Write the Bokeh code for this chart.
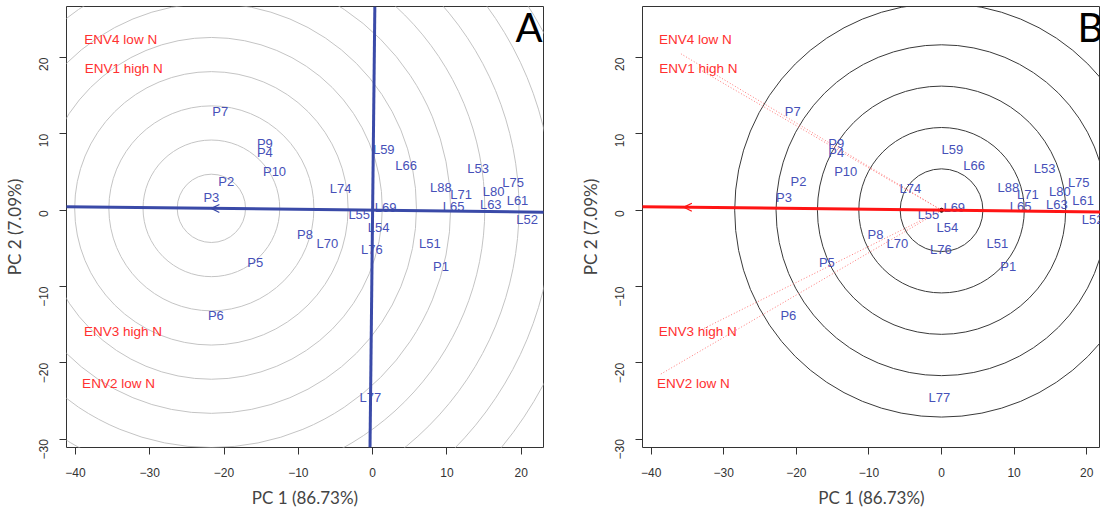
import numpy as np
from bokeh.plotting import figure
from bokeh.layouts import row
from bokeh.models import ColumnDataSource, Label, Arrow, OpenHead, FixedTicker, Range1d, Slope
from bokeh.core.properties import value
from bokeh.embed import file_html
from bokeh.resources import INLINE

# ---------------- data ----------------
genotypes = ["P1", "P2", "P3", "P4", "P5", "P6", "P7", "P8", "P9", "P10",
             "L51", "L52", "L53", "L54", "L55", "L59", "L61", "L63", "L65", "L66",
             "L69", "L70", "L71", "L74", "L75", "L76", "L77", "L80", "L88"]
geno_pc1 = [9.2, -19.7, -21.7, -14.5, -15.8, -21.1, -20.5, -9.1, -14.5, -13.2,
            7.7, 20.8, 14.2, 0.8, -1.8, 1.5, 19.5, 15.9, 10.9, 4.5,
            1.75, -6.1, 11.9, -4.3, 18.9, -0.1, -0.3, 16.3, 9.2]
geno_pc2 = [-7.4, 3.8, 1.7, 7.5, -6.9, -13.8, 13.0, -3.2, 8.8, 5.1,
            -4.3, -1.2, 5.5, -2.2, -0.6, 7.9, 1.3, 0.7, 0.5, 5.8,
            0.35, -4.3, 2.1, 2.9, 3.6, -5.2, -24.5, 2.45, 2.95]

env_names = ["ENV4 low N", "ENV1 high N", "ENV3 high N", "ENV2 low N"]
env_pc1 = [-35.9, -33.6, -33.6, -38.9]          # environment vector ends
env_pc2 = [20.5, 18.6, -15.9, -21.6]
env_label_pc1 = [-33.9, -33.5, -33.6, -34.2]    # label centres
env_label_pc2 = [22.4, 18.6, -15.9, -22.7]

ideal_pc1 = [-21.7]                              # centre of rings in panel A
rings_a = [4.6, 9.2, 13.8, 18.4, 23.0, 27.6, 32.2, 36.8, 41.4, 46.0, 50.6, 55.2]
rings_b = [5.7, 11.4, 17.1, 22.8, 28.5]

x_ticks = [-40, -30, -20, -10, 0, 10, 20]
x_tick_labels = ["\u221240", "\u221230", "\u221220", "\u221210", "0", "10", "20"]
y_ticks = [-30, -20, -10, 0, 10, 20]
y_tick_labels = ["\u221230", "\u221220", "\u221210", "0", "10", "20"]

x_title = "PC 1 (86.73%)"
y_title = "PC 2 (7.09%)"

# average environment coordinate
aec_x = float(np.mean(env_pc1))
aec_y = float(np.mean(env_pc2))
aec_slope = aec_y / aec_x

BLUE_TXT = "#4650b8"
RED_TXT = "#ff3030"
BLUE_LINE = "#3a4aa8"
RED_LINE = "#ff1414"
AX = "#333333"

geno_src = ColumnDataSource(dict(x=geno_pc1, y=geno_pc2, t=genotypes))
env_lab_src = ColumnDataSource(dict(x=env_label_pc1, y=env_label_pc2, t=env_names))


def make_fig(width, x_end, border_right):
    p = figure(width=width, height=511,
               x_range=Range1d(-41.2, x_end), y_range=Range1d(-31.1, 26.7),
               output_backend="svg", toolbar_location=None,
               min_border_left=66, min_border_right=border_right,
               min_border_top=6, min_border_bottom=64)
    p.grid.visible = False
    p.outline_line_color = AX
    p.outline_line_width = 1
    p.background_fill_color = "white"
    p.border_fill_color = "white"
    for ax in (p.xaxis[0], p.yaxis[0]):
        ax.axis_line_color = None
        ax.major_tick_out = 7
        ax.major_tick_in = 0
        ax.minor_tick_line_color = None
        ax.major_tick_line_color = AX
        ax.major_label_text_font = "Liberation Sans"
        ax.major_label_text_font_size = "12px"
        ax.major_label_text_color = AX
        ax.axis_label_text_font = "Lato"
        ax.axis_label_text_font_size = "17px"
        ax.axis_label_text_font_style = "normal"
        ax.axis_label_text_color = "#444444"
        ax.axis_label_standoff = 7
    p.xaxis.major_label_standoff = 13
    p.yaxis.major_label_standoff = 16
    p.xaxis.ticker = FixedTicker(ticks=x_ticks)
    p.xaxis.major_label_overrides = dict(zip(x_ticks, x_tick_labels))
    p.yaxis.ticker = FixedTicker(ticks=y_ticks)
    p.yaxis.major_label_overrides = dict(zip(y_ticks, y_tick_labels))
    p.yaxis.major_label_orientation = np.pi / 2
    p.xaxis.axis_label = x_title
    p.yaxis.axis_label = y_title
    return p


def add_text(p):
    p.text(x="x", y="y", text="t", source=geno_src,
           text_font=value("Liberation Sans"), text_font_size="13px",
           text_color=BLUE_TXT, text_align="center", text_baseline="middle")
    p.text(x="x", y="y", text="t", source=env_lab_src,
           text_font=value("Liberation Sans"), text_font_size="13.5px",
           text_color=RED_TXT, text_align="center", text_baseline="middle")


# ---------------- Panel A ----------------
pa = make_fig(576, 23.0, 33)
cy = aec_slope * ideal_pc1[0]
pa.circle(x=[ideal_pc1[0]] * len(rings_a), y=[cy] * len(rings_a), radius=rings_a,
          fill_color=None, line_color="#c4c4c4", line_width=1)
add_text(pa)
pa.add_layout(Slope(gradient=aec_slope, y_intercept=0, line_color=BLUE_LINE, line_width=3))
pa.add_layout(Slope(gradient=-1.0 / aec_slope, y_intercept=0, line_color=BLUE_LINE, line_width=3))
pa.add_layout(Arrow(end=OpenHead(size=8, line_color=BLUE_LINE, line_width=1.2),
                    x_start=ideal_pc1[0] + 1, y_start=aec_slope * (ideal_pc1[0] + 1),
                    x_end=ideal_pc1[0], y_end=cy, line_alpha=0))
pa.add_layout(Label(x=23.0, y=26.7, text="A", text_align="right", text_baseline="top",
                    text_font="Lato", text_font_size="40px", text_color="black",
                    x_offset=-1, y_offset=4))

# ---------------- Panel B ----------------
pb = make_fig(524, 21.9, 0)
pb.circle(x=[0] * len(rings_b), y=[0] * len(rings_b), radius=rings_b,
          fill_color=None, line_color="#3a3a3a", line_width=1)
pb.segment(x0=[0] * len(env_pc1), y0=[0] * len(env_pc1), x1=env_pc1, y1=env_pc2,
           line_color="#ff7a7a", line_width=1, line_dash="1 2")
add_text(pb)
pb.add_layout(Slope(gradient=aec_slope, y_intercept=0, line_color=RED_LINE, line_width=3))
pb.add_layout(Arrow(end=OpenHead(size=8, line_color=RED_LINE, line_width=1.2),
                    x_start=aec_x + 1, y_start=aec_slope * (aec_x + 1),
                    x_end=aec_x, y_end=aec_y, line_alpha=0))
pb.scatter(x=[0], y=[0], size=4, color="black")
pb.add_layout(Label(x=21.9, y=26.7, text="B", text_align="left", text_baseline="top",
                    text_font="Lato", text_font_size="40px", text_color="black",
                    x_offset=-23, y_offset=4))

layout = row(pa, pb)
open("out.html", "w").write(file_html(layout, INLINE))
